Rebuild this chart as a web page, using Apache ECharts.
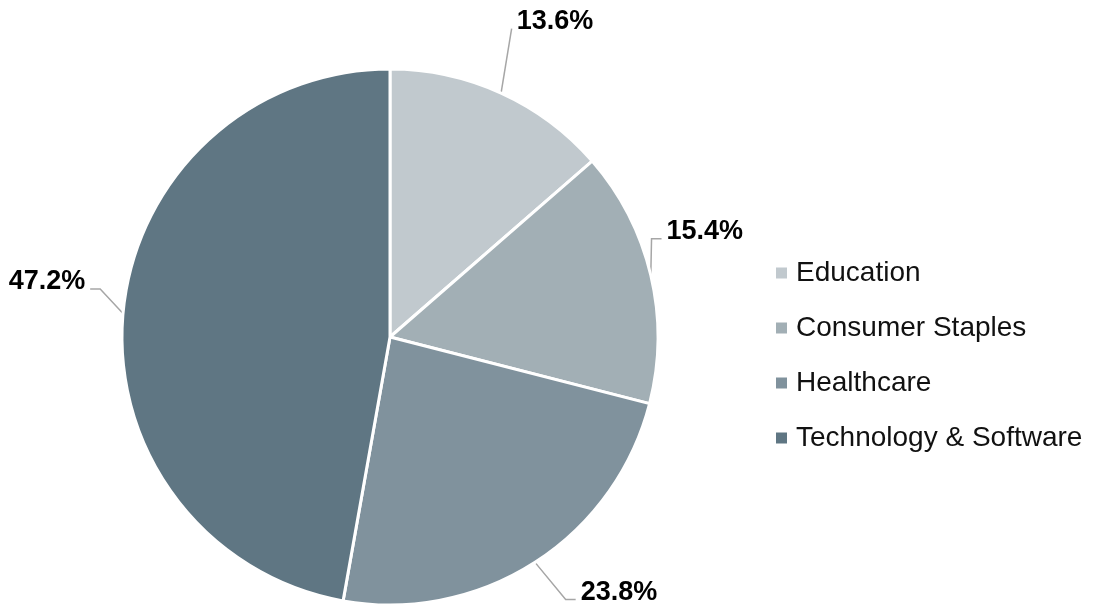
<!DOCTYPE html>
<html>
<head>
<meta charset="utf-8">
<script src="https://cdn.jsdelivr.net/npm/echarts@6/dist/echarts.min.js"></script>
<style>
  html, body { margin: 0; padding: 0; background: #fff; }
  #chart { width: 1099px; height: 607px; }
</style>
</head>
<body>
<div id="chart"></div>
<script>
const sectors = ["Education", "Consumer Staples", "Healthcare", "Technology & Software"];
const shares = [13.6, 15.4, 23.8, 47.2];
const colors = ["#c1c9ce", "#a2afb5", "#80929d", "#5f7683"];

// nudge of the label (and the bend of its leader line) away from the default spot
const labelNudge = [[-6, -28], [-33, -26], [9, 7], [17, -21]];
const leaderTail = [0, 10, 10, 10];
// text sits on top of the leader line rather than centred on it
const textLift = -7;

const chart = echarts.init(document.getElementById("chart"));
const option = {
  animation: false,
  color: colors,
  legend: {
    orient: "vertical",
    left: 769,
    top: 254,
    itemWidth: 13,
    itemHeight: 13,
    itemGap: 27,
    icon: "rect",
    textStyle: {
      fontFamily: "Liberation Sans",
      fontSize: 28,
      color: "#111",
      padding: [0, 0, 0, 3]
    },
    data: sectors
  },
  series: [
    {
      type: "pie",
      center: [390, 337],
      radius: 268,
      startAngle: 90,
      clockwise: true,
      itemStyle: {
        borderColor: "#fff",
        borderWidth: 3
      },
      label: {
        show: true,
        formatter: (p) => p.value.toFixed(1) + "%",
        fontFamily: "Liberation Sans",
        fontWeight: "bold",
        fontSize: 27,
        color: "#000",
        overflow: "none"
      },
      labelLine: {
        length: 40,
        length2: 10,
        lineStyle: { color: "#a6a6a6", width: 1.5 }
      },
      labelLayout: function (params) {
        const n = labelNudge[params.dataIndex];
        const pts = params.labelLinePoints;
        const out = { dx: n[0], dy: n[1] + textLift };
        if (pts) {
          out.labelLinePoints = [
            pts[0],
            [pts[1][0] + n[0], pts[1][1] + n[1]],
            [pts[2][0] + n[0], pts[2][1] + n[1]]
          ];
        }
        return out;
      },
      data: sectors.map((name, i) => ({
        name,
        value: shares[i],
        labelLine: { length2: leaderTail[i] }
      }))
    }
  ]
};
chart.setOption(option);
</script>
</body>
</html>
